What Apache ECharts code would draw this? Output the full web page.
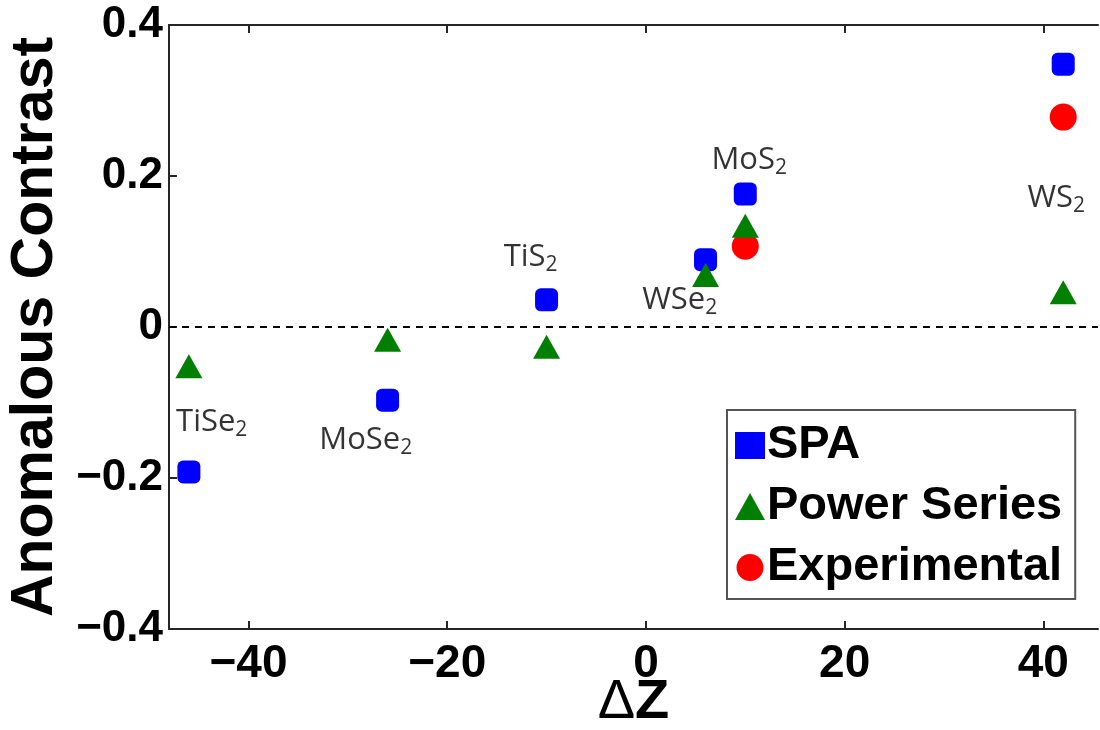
<!DOCTYPE html>
<html>
<head>
    <meta charset="UTF-8">
    <title>Anomalous Contrast</title>
    <script src="https://cdn.jsdelivr.net/npm/echarts@6.0.0/dist/echarts.min.js"></script>
</head>
<body style="margin:0;background:#fff;">
<div id="main" style="width: 1100px;height:730px;"></div>
<script type="text/javascript">
    // data
    var materials = ['TiSe2', 'MoSe2', 'TiS2', 'WSe2', 'MoS2', 'WS2'];
    var deltaZ = [-46, -26, -10, 6, 10, 42];
    var spa = [-0.192, -0.097, 0.036, 0.089, 0.176, 0.348];
    var powerSeries = [-0.052, -0.017, -0.026, 0.069, 0.134, 0.046];
    var expZ = [10, 42];
    var experimental = [0.107, 0.278];
    // where each material name sits (data units)
    var labelX = [-43.7, -28.2, -11.6, 3.4, 10.4, 41.3];
    var labelY = [-0.126, -0.150, 0.093, 0.036, 0.221, 0.171];
    var xTicks = [-40, -20, 0, 20, 40];
    var yTicks = [-0.4, -0.2, 0, 0.2, 0.4];

    function pairs(xs, ys) {
        var out = [];
        for (var i = 0; i < xs.length; i++) out.push([xs[i], ys[i]]);
        return out;
    }
    function minus(v) {
        return String(v).replace('-', '\u2212');
    }

    var boldFont = "'Liberation Sans', Arial, sans-serif";
    var axisColor = '#262626';

    var labelData = [];
    for (var i = 0; i < materials.length; i++) {
        labelData.push({value: [labelX[i], labelY[i]], name: materials[i]});
    }

    var myChart = echarts.init(document.getElementById('main'));

    var option = {
        backgroundColor: '#ffffff',
        animation: false,
        grid: {left: 169, right: 2, top: 25, bottom: 101, containLabel: false, outerBoundsMode: 'none'},
        legend: {
            orient: 'vertical',
            left: 727,
            top: 410,
            padding: [12, 13, 8, 8],
            itemGap: 14,
            itemWidth: 30,
            itemHeight: 27,
            borderColor: '#555',
            borderWidth: 2,
            backgroundColor: '#fff',
            textStyle: {fontSize: 47, fontWeight: 'bold', fontFamily: boldFont, color: '#000', padding: [0, 0, 0, -3]},
            data: [
                {name: 'SPA', icon: 'rect'},
                {name: 'Power Series', icon: 'triangle'},
                {name: 'Experimental', icon: 'circle'}
            ]
        },
        xAxis: [
            {
                type: 'value',
                min: -48,
                max: 45.5,
                name: '{d|\u0394}{z|Z}',
                nameLocation: 'middle',
                nameGap: 46,
                nameMoveOverlap: false,
                nameTextStyle: {
                    rich: {
                        d: {fontSize: 56, fontFamily: boldFont, color: '#000'},
                        z: {fontSize: 56, fontWeight: 'bold', fontFamily: boldFont, color: '#000'}
                    }
                },
                axisLine: {onZero: false, lineStyle: {color: axisColor, width: 2}},
                axisTick: {inside: true, length: 8, customValues: xTicks, lineStyle: {color: axisColor, width: 2}},
                axisLabel: {
                    customValues: xTicks,
                    margin: 12,
                    fontSize: 46, fontWeight: 'bold', fontFamily: boldFont, color: '#000',
                    formatter: minus
                },
                splitLine: {show: false}
            },
            {
                type: 'value',
                position: 'top',
                min: -48,
                max: 45.5,
                axisLine: {onZero: false, lineStyle: {color: axisColor, width: 2}},
                axisTick: {inside: true, length: 8, customValues: xTicks, lineStyle: {color: axisColor, width: 2}},
                axisLabel: {show: false, customValues: xTicks},
                splitLine: {show: false}
            }
        ],
        yAxis: {
            type: 'value',
            min: -0.4,
            max: 0.4,
            interval: 0.2,
            name: 'Anomalous Contrast',
            nameLocation: 'middle',
            nameGap: 104,
            nameMoveOverlap: false,
            nameTextStyle: {fontSize: 59, fontWeight: 'bold', fontFamily: boldFont, color: '#000'},
            axisLine: {show: true, onZero: false, lineStyle: {color: axisColor, width: 2}},
            axisTick: {show: true, inside: true, length: 8, lineStyle: {color: axisColor, width: 2}},
            axisLabel: {
                margin: 6,
                fontSize: 44, fontWeight: 'bold', fontFamily: boldFont, color: '#000',
                formatter: function (v) {
                    var r = Math.round(v * 10) / 10;
                    return minus(r === 0 ? 0 : r.toFixed(1));
                }
            },
            splitLine: {show: false}
        },
        series: [
            {
                name: 'SPA',
                type: 'scatter',
                symbol: 'roundRect',
                symbolSize: 23,
                itemStyle: {color: '#0000ff', opacity: 1},
                data: pairs(deltaZ, spa),
                z: 3,
                markLine: {
                    silent: true,
                    symbol: 'none',
                    label: {show: false},
                    lineStyle: {color: '#000', width: 2, type: [7, 6]},
                    data: [{yAxis: 0}]
                }
            },
            {
                name: 'Power Series',
                type: 'scatter',
                symbol: 'triangle',
                symbolSize: [27, 24],
                itemStyle: {color: '#007f00', opacity: 1},
                data: pairs(deltaZ, powerSeries),
                z: 4
            },
            {
                name: 'Experimental',
                type: 'scatter',
                symbol: 'circle',
                symbolSize: 27,
                itemStyle: {color: '#ff0000', opacity: 1},
                data: pairs(expZ, experimental),
                z: 3
            },
            {
                name: 'names',
                type: 'scatter',
                symbolSize: 0,
                silent: true,
                data: labelData,
                label: {
                    show: true,
                    position: 'inside',
                    formatter: function (p) {
                        var n = p.name;
                        return '{b|' + n.slice(0, -1) + '}{s|' + n.slice(-1) + '}';
                    },
                    rich: {
                        b: {fontSize: 31, fontFamily: "'Open Sans', sans-serif", color: '#000'},
                        s: {fontSize: 21, fontFamily: "'Open Sans', sans-serif", color: '#000', padding: [16, 0, 0, 0]}
                    }
                }
            }
        ]
    };

    myChart.setOption(option);
</script>
</body>
</html>
